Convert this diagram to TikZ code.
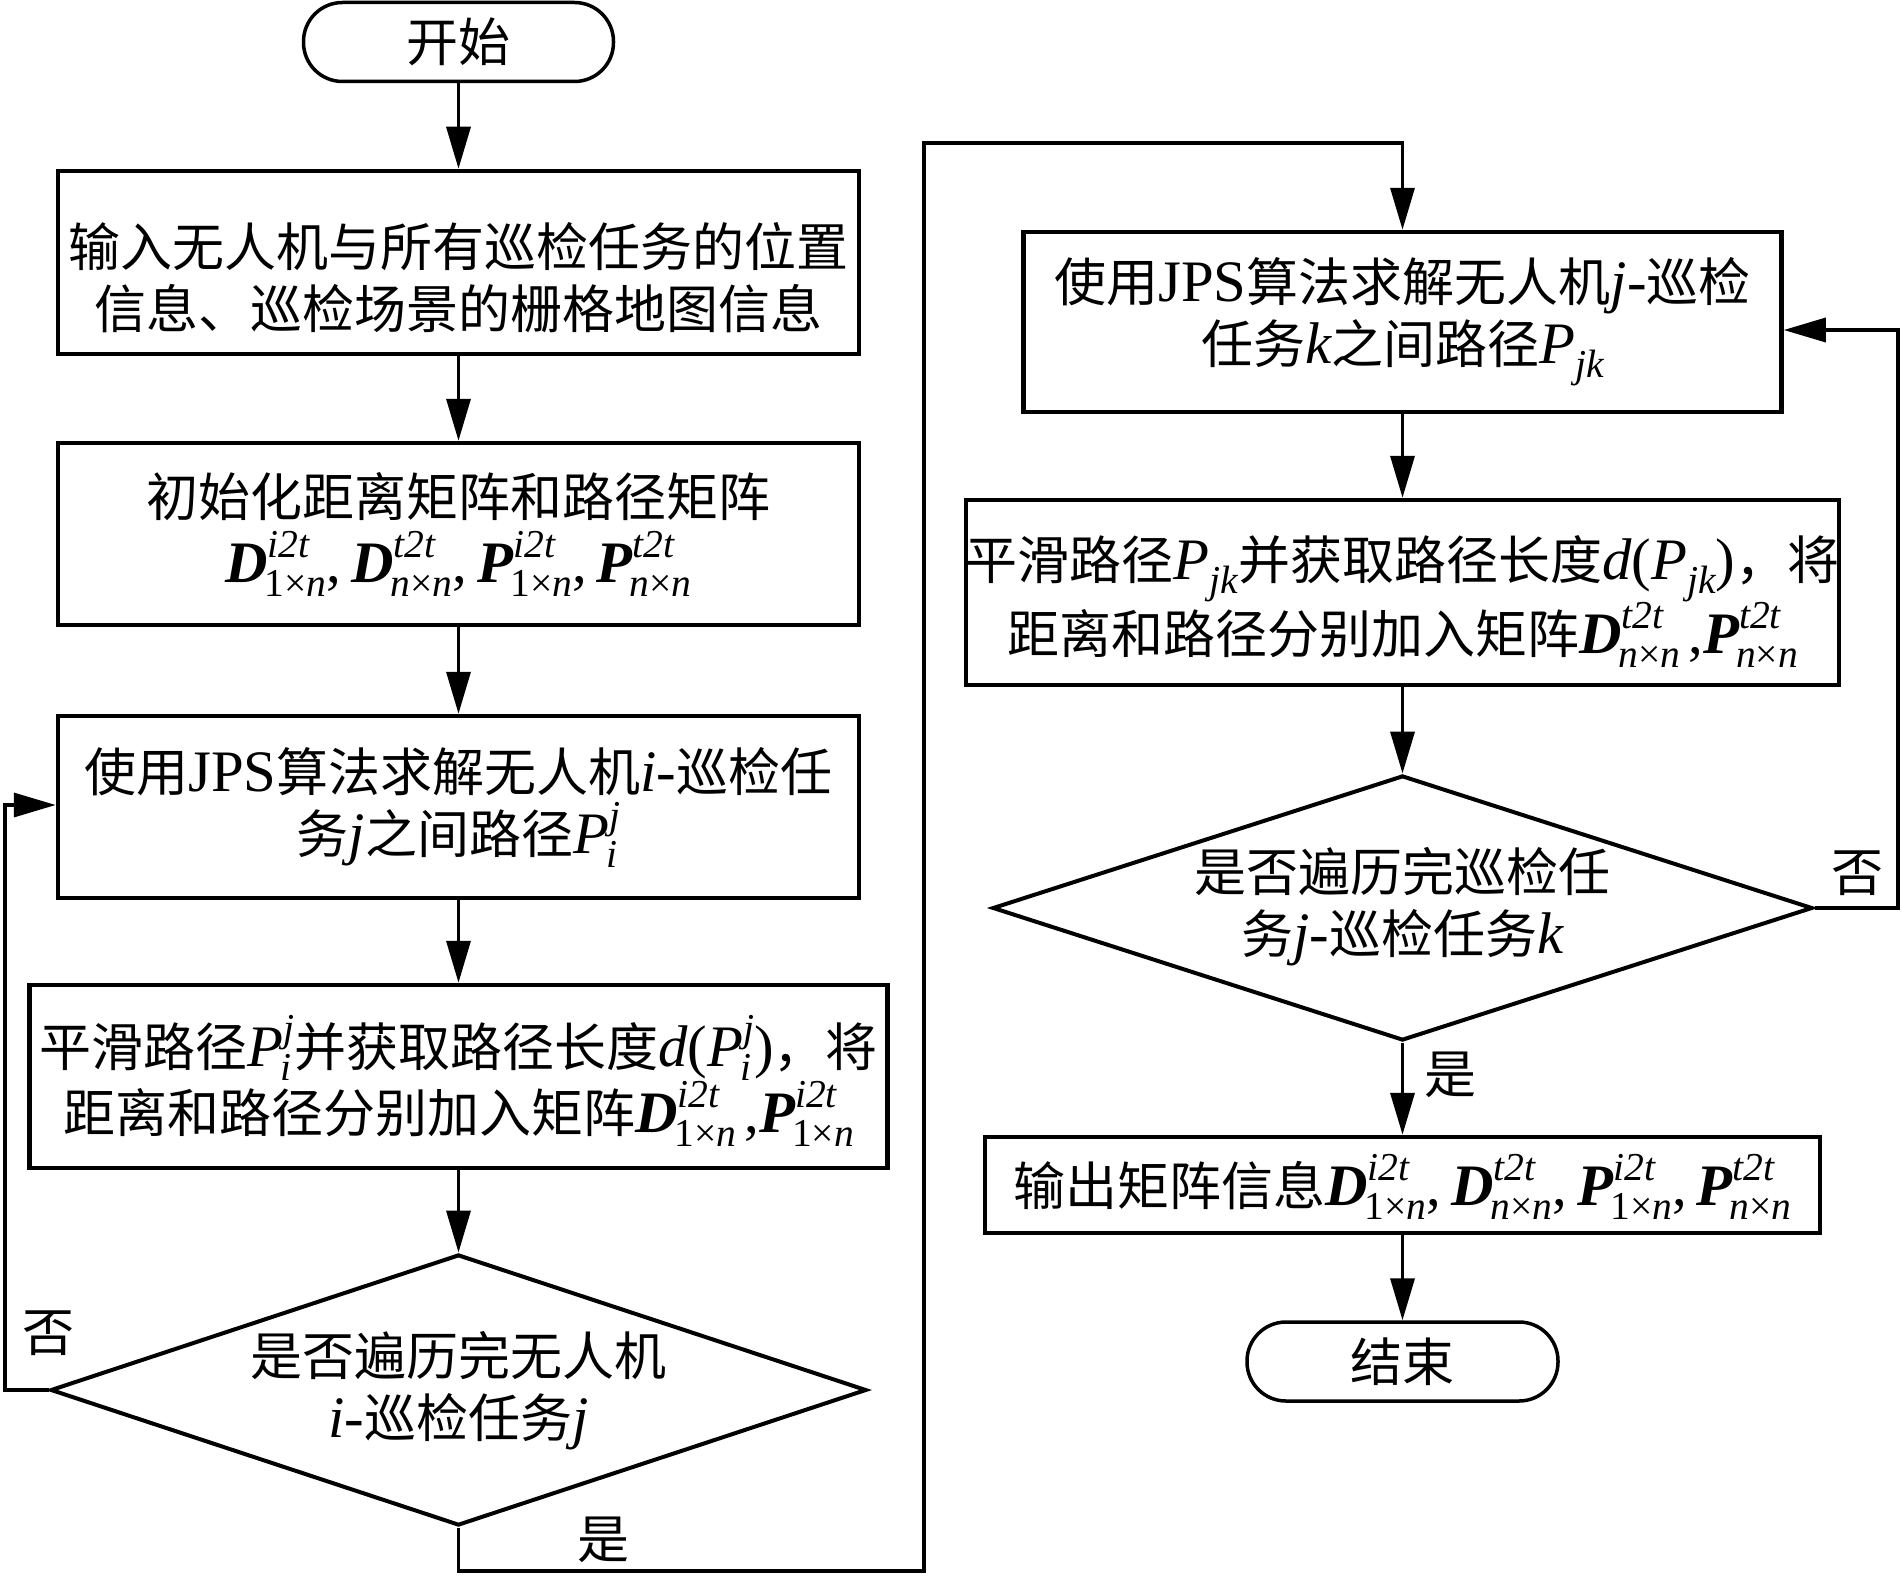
\documentclass[tikz,border=0pt]{standalone}
\usepackage{fontspec}
\setmainfont{Noto Sans CJK SC}
\newfontfamily\tm[Scale=1.13]{Liberation Serif}
\usetikzlibrary{arrows.meta,shapes.geometric}
\newcommand\ltn[1]{{\tm #1}}
\newcommand\vi[1]{{\tm\itshape #1}}
\newcommand\mbf[1]{{\tm\bfseries\itshape #1}}
\newcommand\scr{\fontsize{35}{38}\selectfont\tm}
\newcommand\ssc[2]{\setbox0\hbox{\raisebox{25pt}{\scr\itshape #1}}\setbox2\hbox{\hspace{-3pt}\raisebox{-14pt}{\scr #2}}\ifdim\wd0>\wd2 \rlap{\box2}\box0\else\rlap{\box0}\box2\fi}
\newcommand\sbc[1]{\raisebox{-14pt}{\scr\itshape #1}}
\newcommand\mtx[3]{\mbf{#1}\ssc{#2}{#3}}
\newcommand\onexn{1×{\itshape n}}
\newcommand\nxn{{\itshape n}×{\itshape n}}
\newcommand\sep{\ltn{,}\hspace{10pt}}
\begin{document}
\begin{tikzpicture}[x=1pt,y=-1pt,
  every node/.style={font=\fontsize{52}{62}\selectfont},
  proc/.style={draw, line width=4.5pt, inner sep=0pt, align=center},
  term/.style={draw, line width=3.5pt, rounded corners=39pt, inner sep=0pt, minimum width=310pt, minimum height=79pt},
  dec/.style={draw, diamond, line width=4pt, inner sep=0pt},
  arr/.style={line width=3.5pt, -{Triangle[length=42pt,width=24pt]}}]
\useasboundingbox (0,0) rectangle (1902,1576);
% left column
\node[term] (st) at (458.5,42) {开始};
\node[proc, minimum width=801pt, minimum height=183pt] (b1) at (458.5,262.5)
  {\rule{0pt}{75pt}输入无人机与所有巡检任务的位置\\信息、巡检场景的栅格地图信息};
\node[proc, minimum width=801pt, minimum height=182pt] (b2) at (458.5,534)
  {初始化距离矩阵和路径矩阵\\[4pt]\mtx{D}{i2t}{\onexn}\sep\mtx{D}{t2t}{\nxn}\sep\mtx{P}{i2t}{\onexn}\sep\mtx{P}{t2t}{\nxn}};
\node[proc, minimum width=801pt, minimum height=182pt] (b3) at (458.5,807)
  {使用\ltn{JPS}算法求解无人机\vi{i}\ltn{-}巡检任\\务\vi{j}之间路径\vi{P}\ssc{j}{\itshape i}};
\node[proc, minimum width=858pt, minimum height=183pt] (b4) at (458.5,1076.5)
  {\rule{0pt}{60pt}平滑路径\vi{P}\ssc{j}{\itshape i}并获取路径长度\vi{d}\ltn{(}\vi{P}\ssc{j}{\itshape i}\ltn{)}，将\\距离和路径分别加入矩阵\mtx{D}{i2t}{\onexn}\hspace{8pt}\ltn{,}\mtx{P}{i2t}{\onexn}};
\node[dec, minimum width=816pt, minimum height=271pt] (d1) at (458.5,1390) {};
\node[align=center] (d1t) at (458.5,1391) {是否遍历完无人机\\\vi{i}\ltn{-}巡检任务\vi{j}};
% right column
\node[proc, minimum width=758pt, minimum height=180pt] (b5) at (1402.5,322)
  {使用\ltn{JPS}算法求解无人机\vi{j}\ltn{-}巡检\\任务\vi{k}之间路径\vi{P}\sbc{jk}};
\node[proc, minimum width=855pt, minimum height=185pt] (b6) at (1402.5,592.5)
  {\rule{0pt}{62pt}平滑路径\vi{P}\sbc{jk}并获取路径长度\vi{d}\ltn{(}\vi{P}\sbc{jk}\ltn{)}，将\\距离和路径分别加入矩阵\mtx{D}{t2t}{\nxn}\hspace{8pt}\ltn{,}\mtx{P}{t2t}{\nxn}};
\node[dec, minimum width=820pt, minimum height=265pt] (d2) at (1402.5,908) {};
\node[align=center] (d2t) at (1402.5,907) {是否遍历完巡检任\\务\vi{j}\ltn{-}巡检任务\vi{k}};
\node[proc, minimum width=835pt, minimum height=96pt] (b7) at (1402.5,1185)
  {\rule{0pt}{55pt}输出矩阵信息\mtx{D}{i2t}{\onexn}\sep\mtx{D}{t2t}{\nxn}\sep\mtx{P}{i2t}{\onexn}\sep\mtx{P}{t2t}{\nxn}};
\node[term, minimum width=311pt] (en) at (1402.5,1361.5) {结束};
% labels
\node (n1) at (48,1333) {否};
\node (y1) at (603,1540) {是};
\node (n2) at (1857,873) {否};
\node (y2) at (1450,1075) {是};
% connectors
\draw[arr] (st) -- (b1);
\draw[arr] (b1) -- (b2);
\draw[arr] (b2) -- (b3);
\draw[arr] (b3) -- (b4);
\draw[arr] (b4) -- (d1);
\coordinate (lx) at (5,805);
\draw[arr] (d1.west) -| (lx) -- (lx -| b3.west);
\coordinate (ya) at (924,1571);
\coordinate (yb) at (924,143);
\draw[arr] (d1.south) |- (ya) -- (yb) -| (b5.north);
\draw[arr] (b5) -- (b6);
\draw[arr] (b6) -- (d2);
\draw[arr] (d2) -- (b7);
\draw[arr] (b7) -- (en);
\coordinate (rx) at (1898,330);
\draw[arr] (d2.east) -| (rx) -- (rx -| b5.east);
\end{tikzpicture}
\end{document}
